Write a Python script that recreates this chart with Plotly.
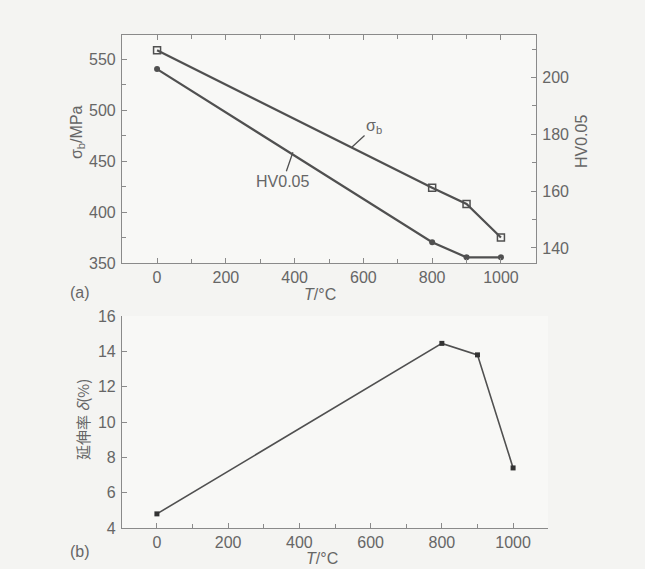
import plotly.graph_objects as go

# Data
T = [0, 800, 900, 1000]
sigma_b = [559, 424, 408, 375]          # MPa (left axis, top panel)
hv005 = [203, 142, 136.7, 136.7]        # HV0.05 (right axis, top panel)
delta = [4.8, 14.45, 13.8, 7.4]         # elongation % (bottom panel)
x_ticks = [0, 200, 400, 600, 800, 1000]

W, H = 645, 569
LINE = '#505050'
AX = '#8a8a8a'
TXT = '#666666'
FONT = 'Liberation Sans'

def px(x):
    return x / W

def py(y):
    return 1 - y / H

fig = go.Figure()

fig.add_trace(go.Scatter(x=T, y=sigma_b, mode='lines+markers', xaxis='x', yaxis='y',
                         line=dict(color=LINE, width=2.2),
                         marker=dict(symbol='square-open', size=7, color=LINE, line=dict(width=1.5)),
                         showlegend=False))
fig.add_trace(go.Scatter(x=T, y=hv005, mode='lines+markers', xaxis='x', yaxis='y2',
                         line=dict(color=LINE, width=2.2),
                         marker=dict(symbol='circle', size=6, color=LINE),
                         showlegend=False))
fig.add_trace(go.Scatter(x=T, y=delta, mode='lines+markers', xaxis='x3', yaxis='y3',
                         line=dict(color=LINE, width=1.6),
                         marker=dict(symbol='square', size=5, color='#333333'),
                         showlegend=False))

tickfont = dict(family=FONT, size=16, color=TXT)
common = dict(showline=True, linecolor=AX, linewidth=1.2, ticks='inside', tickcolor=AX,
              ticklen=5, tickwidth=1, showgrid=False, zeroline=False, tickfont=tickfont,
              automargin=False)

fig.update_layout(
    width=W, height=H,
    margin=dict(l=0, r=0, t=0, b=0),
    paper_bgcolor='#f4f4f2', plot_bgcolor='#f8f8f6',
    xaxis=dict(domain=[px(122), px(536)], range=[-102, 1102], anchor='y',
               tickvals=x_ticks, mirror='ticks',
               minor=dict(dtick=100, ticks='inside', ticklen=4, tickcolor=AX),
               **common),
    yaxis=dict(domain=[py(263), py(35)], range=[350, 574], anchor='x',
               tickvals=[350, 400, 450, 500, 550],
               minor=dict(dtick=25, ticks='inside', ticklen=4, tickcolor=AX),
               ticklabelstandoff=2, **common),
    yaxis2=dict(overlaying='y', side='right', anchor='x', range=[134.7, 215],
                tickvals=[140, 160, 180, 200],
                minor=dict(dtick=10, ticks='inside', ticklen=4, tickcolor=AX),
                ticklabelstandoff=2, **common),
    xaxis3=dict(domain=[px(122), px(548)], range=[-98, 1098], anchor='y3',
                tickvals=x_ticks,
                minor=dict(dtick=100, ticks='inside', ticklen=4, tickcolor=AX),
                **common),
    yaxis3=dict(domain=[py(528), py(316)], range=[4, 16], anchor='x3',
                tickvals=[4, 6, 8, 10, 12, 14, 16], ticklabelstandoff=2, **common),
)

ann_font = dict(family=FONT, size=16, color=TXT)
anns = [
    # axis titles
    dict(x=px(77), y=py(132), text='σ<sub>b</sub>/MPa', textangle=-90),
    dict(x=px(581), y=py(142), text='HV0.05', textangle=-90),
    dict(x=px(320), y=py(294), text='<i>T</i>/°C'),
    dict(x=px(80), y=py(292), text='(a)'),
    dict(x=px(82), y=py(420), text='延伸率 <i>δ</i>(%)', textangle=-90,
         font=dict(family='Noto Sans CJK SC', size=15, color=TXT)),
    dict(x=px(322), y=py(558), text='<i>T</i>/°C'),
    dict(x=px(80), y=py(551), text='(b)'),
]
for a in anns:
    a.setdefault('font', ann_font)
    fig.add_annotation(xref='paper', yref='paper', showarrow=False,
                       xanchor='center', yanchor='middle', **a)

# in-plot labels with leader lines
fig.add_annotation(x=567, y=464, xref='x', yref='y', text='σ<sub>b</sub>',
                   showarrow=True, arrowhead=0, arrowwidth=1.3, arrowcolor=LINE,
                   ax=22, ay=-20, font=ann_font)
fig.add_annotation(x=395, y=173.7, xref='x', yref='y2', text='HV0.05',
                   showarrow=True, arrowhead=0, arrowwidth=1.3, arrowcolor=LINE,
                   ax=-10, ay=29, font=ann_font)

fig.write_html('out.html', config={'displayModeBar': False},
               post_script="document.body.style.margin='0';document.body.style.overflow='hidden';")
